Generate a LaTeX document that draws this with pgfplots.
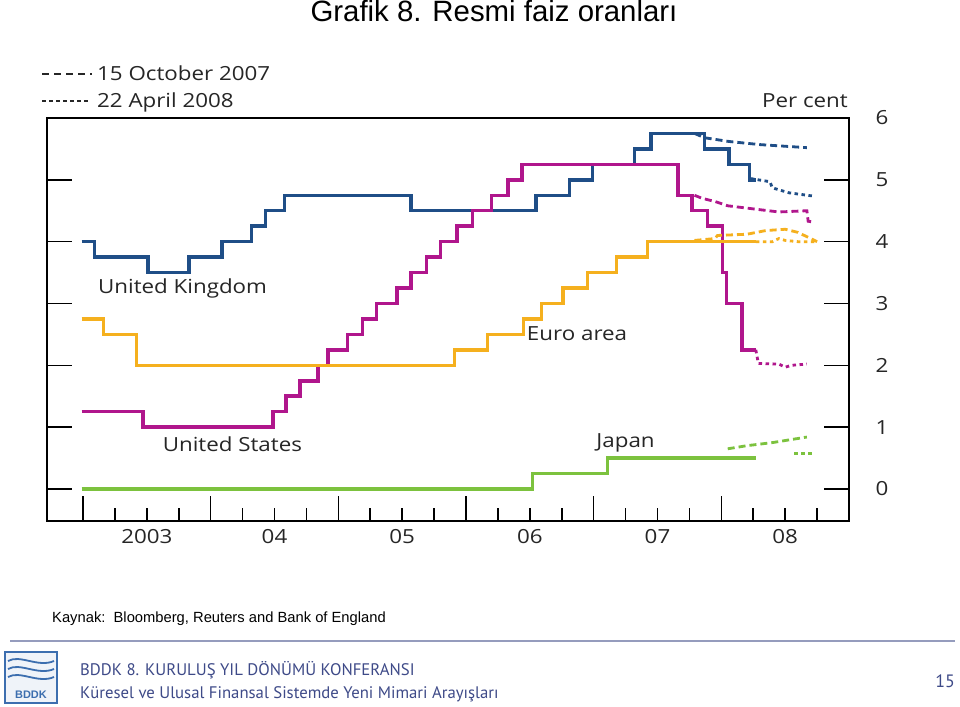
\documentclass[border=0pt]{standalone}
\usepackage{pgfplots}
\pgfplotsset{compat=1.18}
\usepackage{fontspec}
\setmainfont{Liberation Sans}
\newfontfamily\chartfont[FakeStretch=1.15]{Open Sans}
\newfontfamily\footfont{PT Sans}
\definecolor{ukblue}{RGB}{31,78,135}
\definecolor{usmag}{RGB}{176,22,140}
\definecolor{euorg}{RGB}{245,176,30}
\definecolor{jpgrn}{RGB}{124,194,62}
\definecolor{foot}{RGB}{62,74,136}
\definecolor{bddk}{RGB}{60,110,175}
\newcommand{\cf}{\chartfont\fontsize{19.5}{23}\selectfont}
\begin{document}
\begin{tikzpicture}
\useasboundingbox (0,0) rectangle (960bp,707bp);
\fill[white] (0,0) rectangle (960bp,707bp);
\begin{axis}[
  at={(47bp,186bp)}, anchor=south west, scale only axis,
  width=802bp, height=403bp,
  xmin=2002.718, xmax=2009, ymin=-0.518, ymax=6,
  axis line style={line width=1.8bp, black},
  tick style={line width=1.6bp, black},
  xtick={2003,2004,2005,2006,2007,2008},
  xticklabels={},
  extra x ticks={2003.5,2004.5,2005.5,2006.5,2007.5,2008.5},
  extra x tick labels={2003,04,05,06,07,08},
  extra x tick style={major tick length=0pt, tick style={draw=none}},
  minor xtick={2003.25,2003.5,2003.75,2004.25,2004.5,2004.75,2005.25,2005.5,2005.75,2006.25,2006.5,2006.75,2007.25,2007.5,2007.75,2008.25,2008.5,2008.75},
  xtick pos=bottom,
  ytick={0,1,2,3,4,5,6},
  ytick pos=both, yticklabel pos=right,
  tick align=inside, major tick length=25bp, minor tick length=13bp,
  /pgf/number format/assume math mode=true,
  ticklabel style={font=\cf, text=black!85},
  yticklabel style={anchor=center, xshift=33bp},
  xticklabel style={anchor=center, yshift=-16bp},
  clip=false,
]
% United Kingdom
\addplot[const plot, ukblue, line width=3.5bp] coordinates {
(2002.99,4.0) (2003.09,3.75) (2003.51,3.5) (2003.83,3.75) (2004.09,4.0)
(2004.32,4.25) (2004.43,4.5) (2004.58,4.75) (2005.57,4.5) (2006.55,4.75)
(2006.81,5.0) (2006.99,5.25) (2007.32,5.5) (2007.45,5.75) (2007.87,5.5)
(2008.06,5.25) (2008.22,5.0) (2008.27,5.0)};
% United States
\addplot[const plot, usmag, line width=3.5bp] coordinates {
(2002.99,1.25) (2003.47,1.0) (2004.49,1.25) (2004.59,1.5) (2004.70,1.75)
(2004.84,2.0) (2004.92,2.25) (2005.07,2.5) (2005.19,2.75) (2005.30,3.0)
(2005.46,3.25) (2005.57,3.5) (2005.69,3.75) (2005.80,4.0) (2005.93,4.25)
(2006.05,4.5) (2006.20,4.75) (2006.33,5.0) (2006.44,5.25) (2007.66,4.75)
(2007.77,4.5) (2007.89,4.25) (2008.01,3.5) (2008.04,3.0) (2008.16,2.25)
(2008.27,2.25)};
% Euro area
\addplot[const plot, euorg, line width=3.5bp] coordinates {
(2002.99,2.75) (2003.16,2.5) (2003.42,2.0) (2005.91,2.25) (2006.17,2.5)
(2006.45,2.75) (2006.59,3.0) (2006.76,3.25) (2006.95,3.5) (2007.18,3.75)
(2007.42,4.0) (2008.27,4.0)};
% Japan
\addplot[const plot, jpgrn, line width=3.5bp] coordinates {
(2002.99,0) (2006.52,0.25) (2007.11,0.5) (2008.27,0.5)};
% 15 October 2007 (dashed)
\addplot[ukblue, line width=2.8bp, dash pattern=on 7bp off 4bp] coordinates {
(2007.79,5.75) (2007.87,5.68) (2008.06,5.62) (2008.3,5.57) (2008.67,5.52)};
\addplot[usmag, line width=2.8bp, dash pattern=on 7bp off 4bp] coordinates {
(2007.79,4.75) (2007.85,4.70) (2007.95,4.65) (2008.05,4.58) (2008.25,4.53)
(2008.45,4.48) (2008.67,4.50) (2008.68,4.33) (2008.71,4.32)};
\addplot[euorg, line width=2.8bp, dash pattern=on 7bp off 4bp] coordinates {
(2007.79,4.02) (2007.95,4.05) (2007.97,4.10) (2008.2,4.12) (2008.35,4.18)
(2008.5,4.20) (2008.6,4.15) (2008.7,4.05) (2008.75,4.0)};
\addplot[jpgrn, line width=2.8bp, dash pattern=on 7bp off 4bp] coordinates {
(2008.05,0.65) (2008.2,0.70) (2008.4,0.75) (2008.55,0.80) (2008.67,0.84)};
% 22 April 2008 (dotted)
\addplot[ukblue, line width=2.8bp, dash pattern=on 3.5bp off 3.5bp] coordinates {
(2008.23,5.02) (2008.38,4.97) (2008.40,4.87) (2008.53,4.79) (2008.71,4.74)};
\addplot[usmag, line width=2.8bp, dash pattern=on 3.5bp off 3.5bp] coordinates {
(2008.27,2.25) (2008.29,2.03) (2008.45,2.02) (2008.5,1.97) (2008.55,2.0) (2008.67,2.02)};
\addplot[euorg, line width=2.8bp, dash pattern=on 3.5bp off 3.5bp] coordinates {
(2008.27,4.0) (2008.4,4.0) (2008.45,4.05) (2008.5,4.02) (2008.6,4.0) (2008.75,4.0)};
\addplot[jpgrn, line width=2.8bp, dash pattern=on 3.5bp off 3.5bp] coordinates {
(2008.57,0.57) (2008.73,0.57)};
% labels
\node[font=\cf, text=black!85] at (axis cs:2003.78,3.25) {United Kingdom};
\node[font=\cf, text=black!85] at (axis cs:2004.17,0.73) {United States};
\node[font=\cf, text=black!85] at (axis cs:2006.87,2.51) {Euro area};
\node[font=\cf, text=black!85] at (axis cs:2007.25,0.74) {Japan};
\end{axis}
% chart legend
\draw[line width=2.6bp, black!85, dash pattern=on 7bp off 5bp] (42bp,633bp) -- (92bp,633bp);
\draw[line width=2.6bp, black!85, dash pattern=on 4bp off 3bp] (42bp,606bp) -- (90bp,606bp);
\node[anchor=base west, inner sep=0, font=\cf, text=black!85] at (97bp,626bp) {15 October 2007};
\node[anchor=base west, inner sep=0, font=\cf, text=black!85] at (97bp,599bp) {22 April 2008};
\node[anchor=base east, inner sep=0, font=\cf, text=black!85] at (848bp,599bp) {Per cent};
% title
\node[anchor=base, inner sep=0, font=\fontsize{29.5}{32}\selectfont] at (494bp,685bp) {Grafik 8. Resmi faiz oranları};
% source
\node[anchor=base west, inner sep=0, font=\fontsize{14.8}{17}\selectfont] at (52bp,84bp) {Kaynak:\ \ Bloomberg, Reuters and Bank of England};
% footer
\draw[line width=2bp, foot!55] (10bp,66bp) -- (955bp,66bp);
\draw[bddk, line width=1.2bp, fill=bddk!8] (5bp,4bp) rectangle (57bp,55bp);
\draw[bddk, line width=1.8bp] (8bp,46bp) .. controls (20bp,53bp) and (38bp,39bp) .. (54bp,46bp);
\draw[bddk, line width=1.8bp] (8bp,38bp) .. controls (20bp,45bp) and (38bp,31bp) .. (54bp,38bp);
\draw[bddk, line width=1.8bp] (8bp,30bp) .. controls (20bp,37bp) and (38bp,23bp) .. (54bp,30bp);
\node[anchor=base, inner sep=0, text=bddk, font=\bfseries\fontsize{11}{12}\selectfont] at (31bp,9bp) {BDDK};
\node[anchor=base west, inner sep=0, text=foot, font=\footfont\fontsize{16.8}{19}\selectfont] at (80bp,32bp) {BDDK 8. KURULUŞ YIL DÖNÜMÜ KONFERANSI};
\node[anchor=base west, inner sep=0, text=foot, font=\footfont\fontsize{16.8}{19}\selectfont] at (80bp,9bp) {Küresel ve Ulusal Finansal Sistemde Yeni Mimari Arayışları};
\node[anchor=base east, inner sep=0, text=foot, font=\footfont\fontsize{18}{20}\selectfont] at (955bp,20bp) {15};
\end{tikzpicture}
\end{document}
